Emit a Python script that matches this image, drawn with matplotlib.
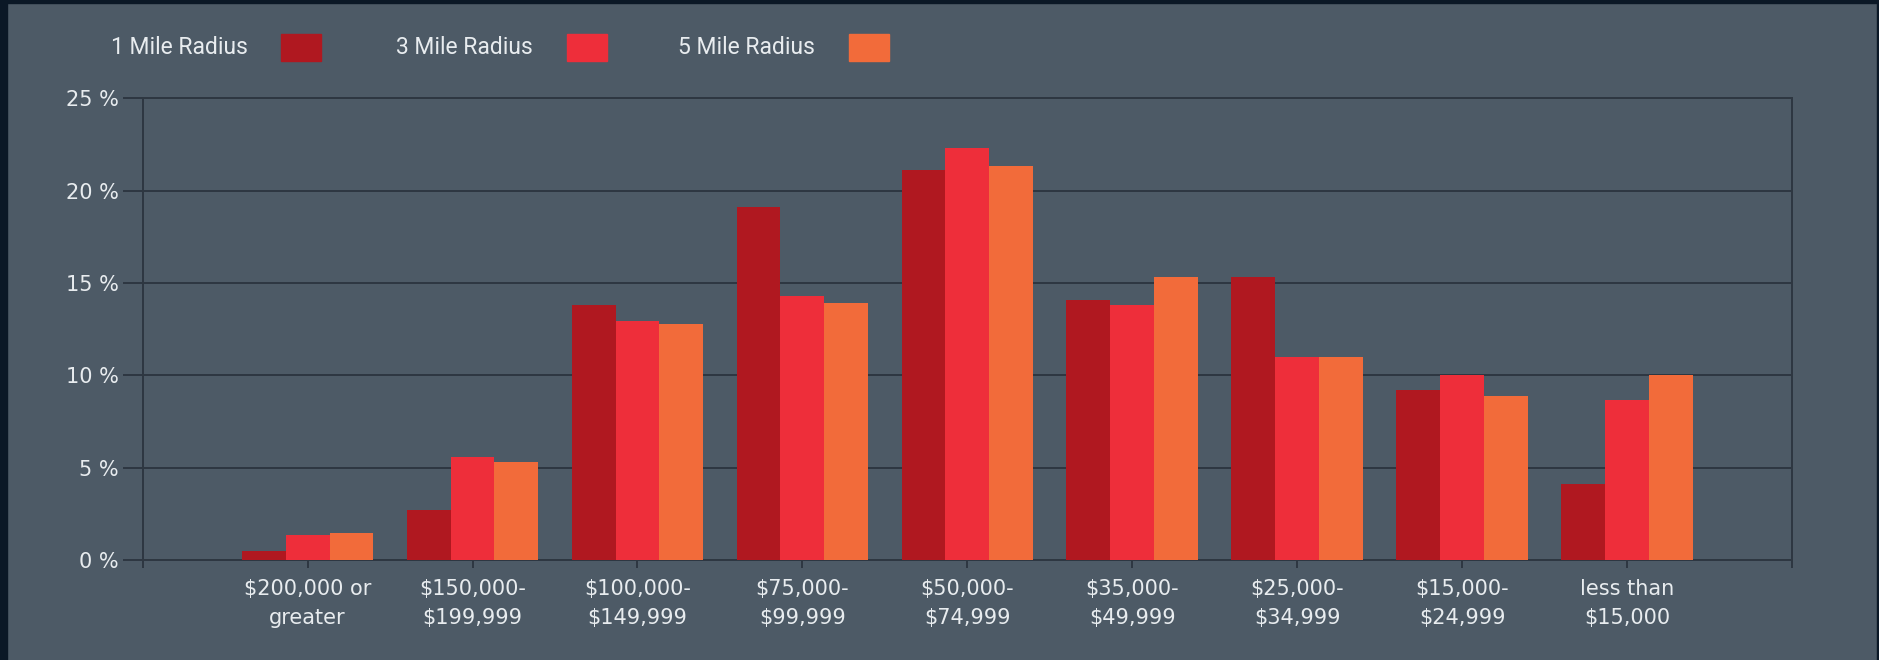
import matplotlib.pyplot as plt
from matplotlib.patches import Rectangle
import numpy as np

categories = ["$200,000 or\ngreater", "$150,000-\n$199,999", "$100,000-\n$149,999",
              "$75,000-\n$99,999", "$50,000-\n$74,999", "$35,000-\n$49,999",
              "$25,000-\n$34,999", "$15,000-\n$24,999", "less than\n$15,000"]
series_names = ["1 Mile Radius", "3 Mile Radius", "5 Mile Radius"]
mile1 = [0.5, 2.7, 13.8, 19.1, 21.1, 14.1, 15.3, 9.2, 4.1]
mile3 = [1.35, 5.6, 12.95, 14.3, 22.3, 13.8, 11.0, 10.0, 8.65]
mile5 = [1.45, 5.3, 12.8, 13.9, 21.35, 15.3, 11.0, 8.9, 10.0]
y_ticks = [0, 5, 10, 15, 20, 25]

bg = "#4d5a66"
grid_c = "#2e3741"
colors = ["#b01820", "#ee2e3a", "#f26b3a"]
txt_c = "#e8ecef"

fig = plt.figure(figsize=(18.79, 6.60), dpi=100, facecolor=bg)
# dark frame round the picture
fig.patches.append(Rectangle((0, 0), 7 / 1879, 1, transform=fig.transFigure, color="#0b1826", zorder=5))
fig.patches.append(Rectangle((0, 1 - 3 / 660), 1, 3 / 660, transform=fig.transFigure, color="#0b1826", zorder=5))
fig.patches.append(Rectangle((1 - 2 / 1879, 0), 2 / 1879, 1, transform=fig.transFigure, color="#0b1826", zorder=5))

ax = fig.add_axes([142.7 / 1879, 1 - 560 / 660, (1792 - 142.7) / 1879, (560 - 98.3) / 660])
ax.set_facecolor(bg)

x = np.arange(len(categories))
w = 0.266
for i, vals in enumerate([mile1, mile3, mile5]):
    ax.bar(x + (i - 1) * w, vals, width=w, color=colors[i], linewidth=0, zorder=3)

ax.set_xlim(-1, len(categories))
ax.set_ylim(0, 25)
ax.set_yticks(y_ticks)
ax.set_yticklabels([f"{v} %" for v in y_ticks])
ax.set_xticks(np.arange(-1, len(categories) + 1))
ax.set_xticklabels([""] + categories + [""], linespacing=1.55)
ax.grid(axis="y", color=grid_c, linewidth=1.4, zorder=1)
for s in ax.spines.values():
    s.set_color(grid_c)
    s.set_linewidth(1.4)
ax.tick_params(axis="y", length=14.4, width=1.4, color=grid_c, pad=3,
               labelsize=15, labelcolor=txt_c)
ax.tick_params(axis="x", length=5.8, width=1.4, color=grid_c, pad=8,
               labelsize=15, labelcolor=txt_c)

# legend drawn by hand, text then square
text_x = [111, 396, 678]
box_x = [281, 567, 849]
for name, tx, bx, c in zip(series_names, text_x, box_x, colors):
    fig.text(tx / 1879, 1 - 47 / 660, name, color=txt_c, fontsize=16.5,
             family=["Liberation Sans Narrow", "Roboto", "DejaVu Sans"], va="center", ha="left")
    fig.patches.append(Rectangle((bx / 1879, 1 - 61 / 660), 40 / 1879, 27 / 660,
                                 transform=fig.transFigure, color=c))

fig.savefig("out.png", dpi=100, facecolor=bg)
